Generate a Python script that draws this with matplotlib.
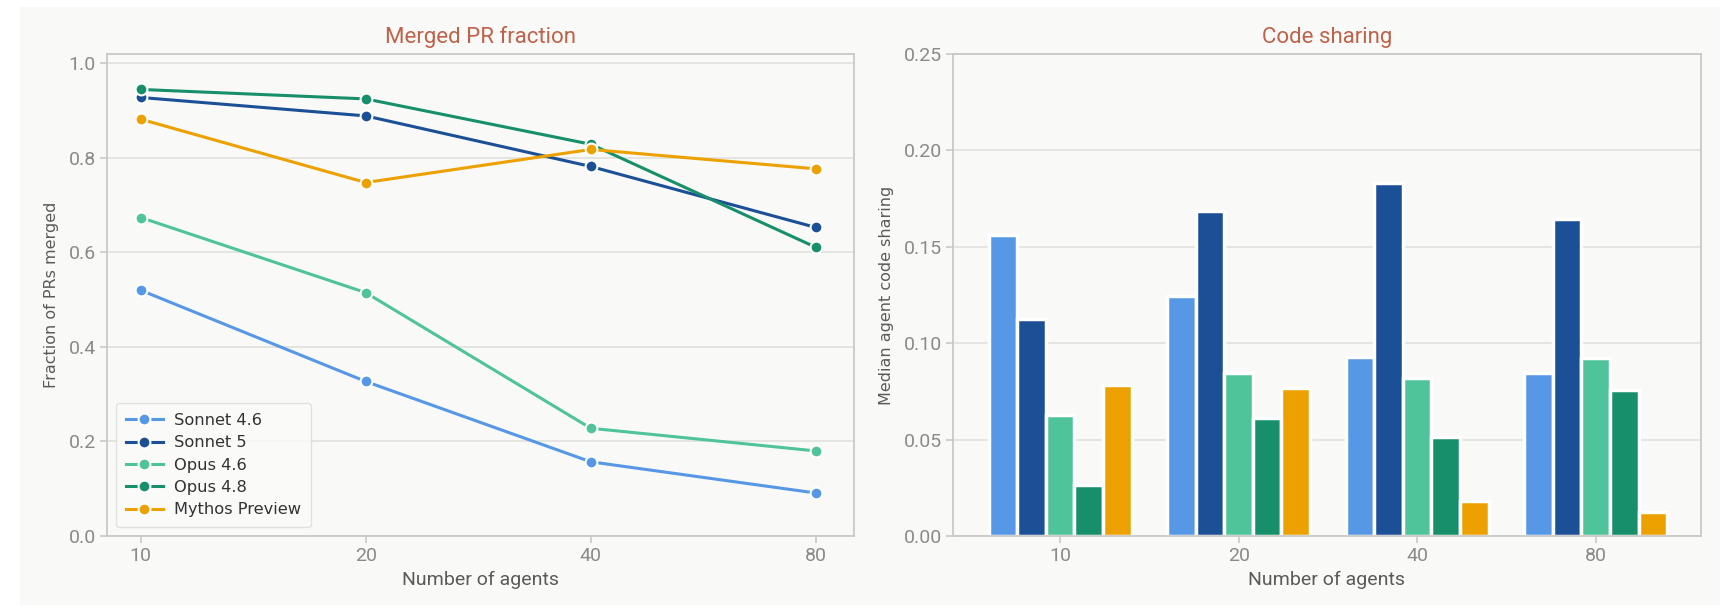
import numpy as np
import matplotlib.pyplot as plt
from matplotlib.patches import Rectangle

agents = ["10", "20", "40", "80"]
models = ["Sonnet 4.6", "Sonnet 5", "Opus 4.6", "Opus 4.8", "Mythos Preview"]
colors = ["#5698e6", "#1b4f96", "#4fc49b", "#178f6a", "#eca100"]

# fraction of PRs merged, one list per model
merged_sonnet46 = [0.520, 0.327, 0.157, 0.091]
merged_sonnet5 = [0.928, 0.889, 0.782, 0.653]
merged_opus46 = [0.674, 0.515, 0.228, 0.180]
merged_opus48 = [0.945, 0.925, 0.829, 0.611]
merged_mythos = [0.882, 0.748, 0.818, 0.777]

# median agent code sharing
share_sonnet46 = [0.156, 0.1246, 0.093, 0.0845]
share_sonnet5 = [0.1126, 0.1686, 0.1832, 0.1645]
share_opus46 = [0.0627, 0.0848, 0.0822, 0.0921]
share_opus48 = [0.0266, 0.0611, 0.0511, 0.0759]
share_mythos = [0.0781, 0.0769, 0.0183, 0.0127]

merged = [merged_sonnet46, merged_sonnet5, merged_opus46, merged_opus48, merged_mythos]
share = [share_sonnet46, share_sonnet5, share_opus46, share_opus48, share_mythos]

BG = "#f9f9f8"
GRID = "#e4e4e0"
SPINE = "#c9c9c6"
TICK = "#8a8a88"
LABEL = "#5a5a58"
TITLE = "#c0624a"
cond = ["Roboto", "DejaVu Sans"]

fig = plt.figure(figsize=(17.32, 6.12), dpi=100, facecolor="white")
fig.patches.append(Rectangle((20 / 1732, 1 - 605 / 612), 1700 / 1732, 598 / 612,
                             transform=fig.transFigure, facecolor=BG,
                             edgecolor="none", zorder=-10))

ax1 = fig.add_axes([107 / 1732, 1 - 536 / 612, 747 / 1732, 482 / 612])
ax2 = fig.add_axes([953 / 1732, 1 - 536 / 612, 748 / 1732, 482 / 612])


def style(ax):
    ax.set_facecolor(BG)
    for s in ax.spines.values():
        s.set_color(SPINE)
        s.set_linewidth(1.3)
    ax.tick_params(colors=SPINE, labelcolor=TICK, length=5, width=1.2,
                   labelsize=14, pad=3)
    for lab in ax.get_xticklabels() + ax.get_yticklabels():
        lab.set_family(cond)
    ax.yaxis.grid(True, color=GRID, linewidth=1.4)
    ax.set_axisbelow(True)


# left: merged PR fraction
x = np.arange(len(agents))
for vals, name, c in zip(merged, models, colors):
    ax1.plot(x, vals, color=c, linewidth=2.2, marker="o", markersize=8.5,
             markeredgecolor="white", markeredgewidth=1.5, label=name)
ax1.set_xticks(x)
ax1.set_xticklabels(agents)
ax1.set_xlim(-0.15, 3.17)
ax1.set_ylim(0, 1.02)
ax1.set_yticks([0.0, 0.2, 0.4, 0.6, 0.8, 1.0])
style(ax1)
ax1.set_title("Merged PR fraction", color=TITLE, fontsize=16, family=cond, pad=8)
ax1.set_xlabel("Number of agents", color=LABEL, fontsize=14, family=cond, labelpad=4)
ax1.set_ylabel("Fraction of PRs merged", color=LABEL, fontsize=11.5, labelpad=7)
leg = ax1.legend(loc="lower left", prop={"size": 11.7}, frameon=True, fancybox=True,
                 borderaxespad=0.55, handlelength=2.3, handletextpad=0.7,
                 labelspacing=0.45, borderpad=0.6)
leg.get_frame().set_facecolor("#fbfbfa")
leg.get_frame().set_edgecolor("#dcdcd8")
for t in leg.get_texts():
    t.set_color("#333333")

# right: code sharing bars
n = len(models)
w = 0.8 / n
for i, (vals, c) in enumerate(zip(share, colors)):
    ax2.bar(x + (i - (n - 1) / 2) * w, vals, width=w, color=c,
            edgecolor="white", linewidth=2.5, zorder=2)
ax2.set_xticks(x)
ax2.set_xticklabels(agents)
ax2.set_xlim(-0.6, 3.59)
ax2.set_ylim(0, 0.25)
ax2.set_yticks([0.0, 0.05, 0.10, 0.15, 0.20, 0.25])
ax2.set_yticklabels(["0.00", "0.05", "0.10", "0.15", "0.20", "0.25"])
style(ax2)
ax2.set_title("Code sharing", color=TITLE, fontsize=16, family=cond, pad=8)
ax2.set_xlabel("Number of agents", color=LABEL, fontsize=14, family=cond, labelpad=4)
ax2.set_ylabel("Median agent code sharing", color=LABEL, fontsize=11.5, labelpad=7)

fig.savefig("out.png", dpi=100, facecolor="white")
